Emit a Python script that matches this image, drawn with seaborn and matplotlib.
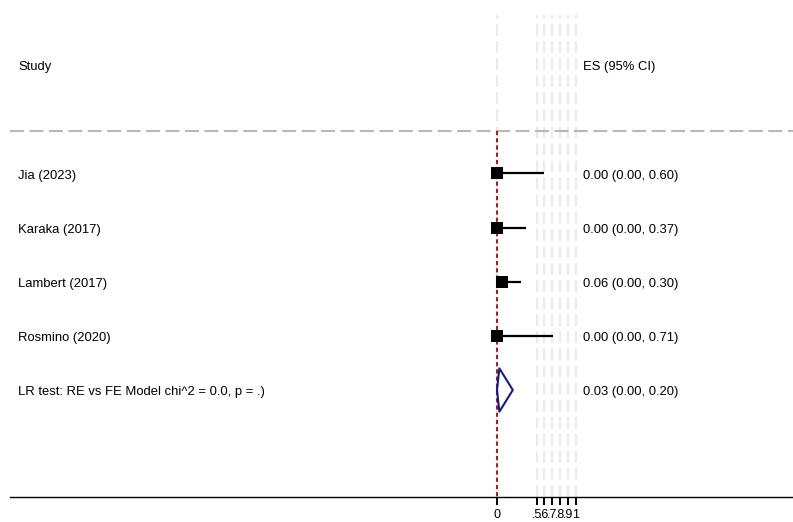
import numpy as np
import pandas as pd
import seaborn as sns
import matplotlib.pyplot as plt

# Study-level estimates (proportions) and 95% CI
studies = ["Jia (2023)", "Karaka (2017)", "Lambert (2017)", "Rosmino (2020)"]
es = [0.00, 0.00, 0.06, 0.00]
ci_lo = [0.00, 0.00, 0.00, 0.00]
ci_hi = [0.60, 0.37, 0.30, 0.71]

# Pooled estimate
pooled_label = "LR test: RE vs FE Model chi^2 = 0.0, p = .)"
pooled = [0.03, 0.00, 0.20]

xticks = [0, 0.5, 0.6, 0.7, 0.8, 0.9, 1]
xticklabels = ["0", ".5", ".6", ".7", ".8", ".9", "1"]

sns.set_style("white")
plt.rcParams['font.family'] = ['Liberation Sans', 'DejaVu Sans']
plt.rcParams['lines.scale_dashes'] = False
plt.rcParams['text.color'] = 'black'
plt.rcParams['xtick.color'] = 'black'
plt.rcParams['xtick.labelcolor'] = 'black'

df = pd.DataFrame({"study": studies, "es": es, "lo": ci_lo, "hi": ci_hi,
                   "row": np.arange(2, 2 + len(studies))})

fig = plt.figure(figsize=(7.93, 5.22), dpi=100)
ax = fig.add_axes([10 / 793, 25 / 522, 783 / 793, 497 / 522])

ax.set_xlim(-6.165, 3.747)
ax.set_ylim(7.975, -1.2)

fs = 9.4
ty = 0.04  # small nudge so text sits on the row centre

# light reference lines at tick positions
for t in xticks:
    ax.axvline(t, ymin=0, ymax=0.97, color="#ececec", lw=1.6, dashes=(8.5, 3.8), zorder=0)

# header separator
ax.axhline(1.22, color="#b8b8b8", lw=1.5, dashes=(10, 4), zorder=1)

# null line
ax.plot([0, 0], [1.22, 7.975], color="#8b2a2a", lw=1.5, dashes=(3, 2.2), zorder=2)

# confidence intervals
ax.hlines(df["row"], df["lo"], df["hi"], color="black", lw=1.6, zorder=3)
sns.scatterplot(data=df, x="es", y="row", marker="s", s=80, color="black",
                edgecolor="black", linewidth=0, ax=ax, zorder=4, legend=False)

# pooled diamond
prow = 2 + len(studies)
dx = [pooled[1], pooled[0], pooled[2], pooled[0], pooled[1]]
dy = [prow, prow - 0.4, prow, prow + 0.4, prow]
ax.plot(dx, dy, color="#1a1a7a", lw=1.5, zorder=4)

# text columns
ax.text(-6.06, 0 + ty, "Study", fontsize=fs, va="center", ha="left")
ax.text(1.09, 0 + ty, "ES (95% CI)", fontsize=fs, va="center", ha="left")
for r, s, e, l, h in zip(df["row"], studies, es, ci_lo, ci_hi):
    ax.text(-6.06, r + ty, s, fontsize=fs, va="center", ha="left")
    ax.text(1.09, r + ty, f"{e:.2f} ({l:.2f}, {h:.2f})", fontsize=fs, va="center", ha="left")
ax.text(-6.06, prow + ty, pooled_label, fontsize=fs, va="center", ha="left")
ax.text(1.09, prow + ty, f"{pooled[0]:.2f} ({pooled[1]:.2f}, {pooled[2]:.2f})",
        fontsize=fs, va="center", ha="left")

# axes styling
for side in ["top", "right", "left"]:
    ax.spines[side].set_visible(False)
ax.spines["bottom"].set_color("black")
ax.spines["bottom"].set_linewidth(1.0)
ax.set_yticks([])
ax.set_xticks(xticks)
ax.set_xticklabels(xticklabels, fontsize=9)
ax.tick_params(axis="x", bottom=True, direction="out", length=6, width=1.4,
               color="black", pad=2.5)
ax.set_xlabel("")
ax.set_ylabel("")

fig.savefig("out.png", dpi=100)
